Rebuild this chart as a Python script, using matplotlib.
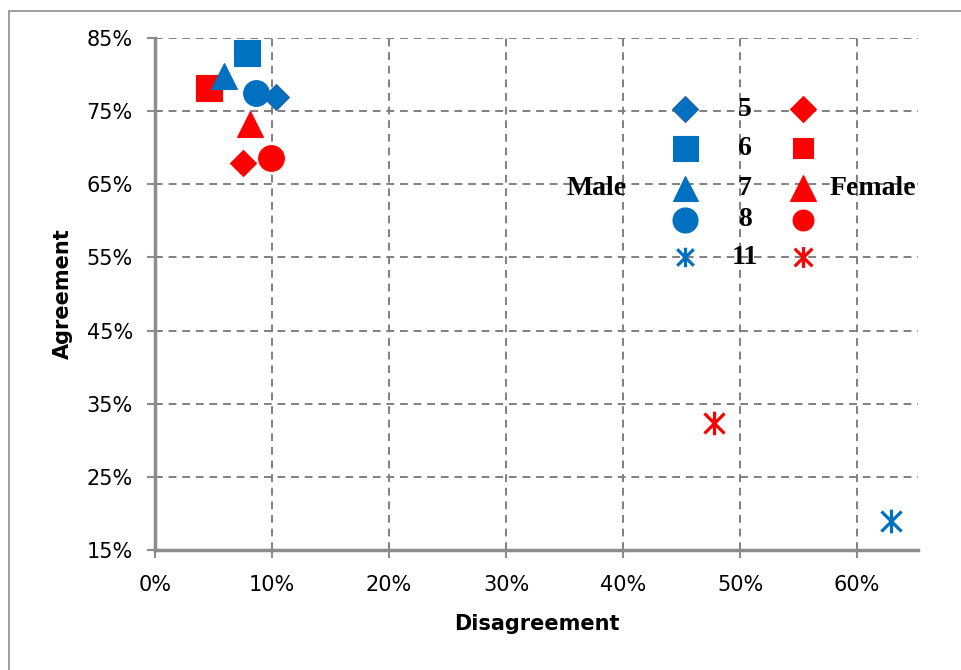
import matplotlib.pyplot as plt
from matplotlib.path import Path
from matplotlib.patches import Rectangle
from matplotlib.ticker import FuncFormatter

# disagreement / agreement shares per grade, by gender
grades = ['5', '6', '7', '8', '11']
male_disagree = [0.103, 0.079, 0.059, 0.086, 0.629]
male_agree = [0.769, 0.829, 0.798, 0.775, 0.190]
female_disagree = [0.075, 0.046, 0.081, 0.099, 0.478]
female_agree = [0.679, 0.781, 0.733, 0.686, 0.324]

BLUE = '#0070C0'
RED = '#FF0000'
GRID = '#8c8c8c'

# asterisk: vertical bar plus an X
star = Path([(0, -1), (0, 1), (-0.85, -0.85), (0.85, 0.85), (-0.85, 0.85), (0.85, -0.85)],
            [Path.MOVETO, Path.LINETO, Path.MOVETO, Path.LINETO, Path.MOVETO, Path.LINETO])

markers = ['D', 's', '^', 'o', star]
sizes = [13.2, 18.5, 18.5, 18.5, 17]
legend_sizes_m = [13, 18, 18, 18, 14]
legend_sizes_f = [13.5, 15, 18.5, 15, 15]

plt.rcParams['font.family'] = ['DejaVu Sans']

fig = plt.figure(figsize=(9.62, 6.70), dpi=100)
fig.patches.append(Rectangle((9 / 962, -0.1), 1.2, 1 - 11 / 670 + 0.1, transform=fig.transFigure,
                             fill=False, edgecolor='#8c8c8c', linewidth=1.2))
ax = fig.add_axes([155 / 962, 1 - 550 / 670, (918 - 155) / 962, (550 - 38) / 670])


def draw(ax, xs, ys, color, edge, ms, mk, **kw):
    if isinstance(mk, Path):
        ax.plot(xs, ys, marker=mk, markersize=ms, linestyle='none', markerfacecolor='none',
                markeredgecolor=color, markeredgewidth=2.3, **kw)
    else:
        ax.plot(xs, ys, marker=mk, markersize=ms, linestyle='none', markerfacecolor=color,
                markeredgecolor=edge, markeredgewidth=0.8, **kw)


for i in range(len(grades)):
    draw(ax, [female_disagree[i]], [female_agree[i]], RED, RED, sizes[i], markers[i], zorder=3)
    draw(ax, [male_disagree[i]], [male_agree[i]], BLUE, '#2e62a0' if i == 0 else BLUE,
         sizes[i], markers[i], zorder=3)

ax.set_xlim(0, 0.652)
ax.set_ylim(0.15, 0.85)
ax.set_xticks([0, 0.1, 0.2, 0.3, 0.4, 0.5, 0.6])
ax.set_yticks([0.15, 0.25, 0.35, 0.45, 0.55, 0.65, 0.75, 0.85])
pct = FuncFormatter(lambda v, _: f'{round(v * 100)}%')
ax.xaxis.set_major_formatter(pct)
ax.yaxis.set_major_formatter(pct)
ax.tick_params(axis='both', direction='out', length=6, width=1.5, color=GRID,
               labelsize=15)
ax.tick_params(axis='x', pad=12)
ax.tick_params(axis='y', pad=10)
ax.grid(True, color='#808080', linestyle=(0, (4, 3)), linewidth=1.4)
ax.set_axisbelow(True)
for side in ['top', 'right']:
    ax.spines[side].set_visible(False)
for side in ['left', 'bottom']:
    ax.spines[side].set_color(GRID)
    ax.spines[side].set_linewidth(2.5)

ax.set_xlabel('Disagreement', fontsize=15, fontweight='bold', labelpad=14)
ax.set_ylabel('Agreement', fontsize=15, fontweight='bold', labelpad=10)

# legend block: male keys | grade | female keys
key_rows = [0.861, 0.785, 0.707, 0.645, 0.572]
for i, g in enumerate(grades):
    draw(ax, [0.695], [key_rows[i]], BLUE, '#2e62a0' if i == 0 else BLUE,
         legend_sizes_m[i], markers[i], transform=ax.transAxes, clip_on=False)
    draw(ax, [0.849], [key_rows[i]], RED, RED, legend_sizes_f[i], markers[i],
         transform=ax.transAxes, clip_on=False)
    ax.text(0.773, key_rows[i], g, transform=ax.transAxes, ha='center', va='center',
            fontsize=20, fontweight='bold', family='Liberation Serif')
ax.text(0.579, 0.707, 'Male', transform=ax.transAxes, ha='center', va='center',
        fontsize=20, fontweight='bold', family='Liberation Serif')
ax.text(0.941, 0.707, 'Female', transform=ax.transAxes, ha='center', va='center',
        fontsize=20, fontweight='bold', family='Liberation Serif')

fig.savefig('out.png', dpi=100)
